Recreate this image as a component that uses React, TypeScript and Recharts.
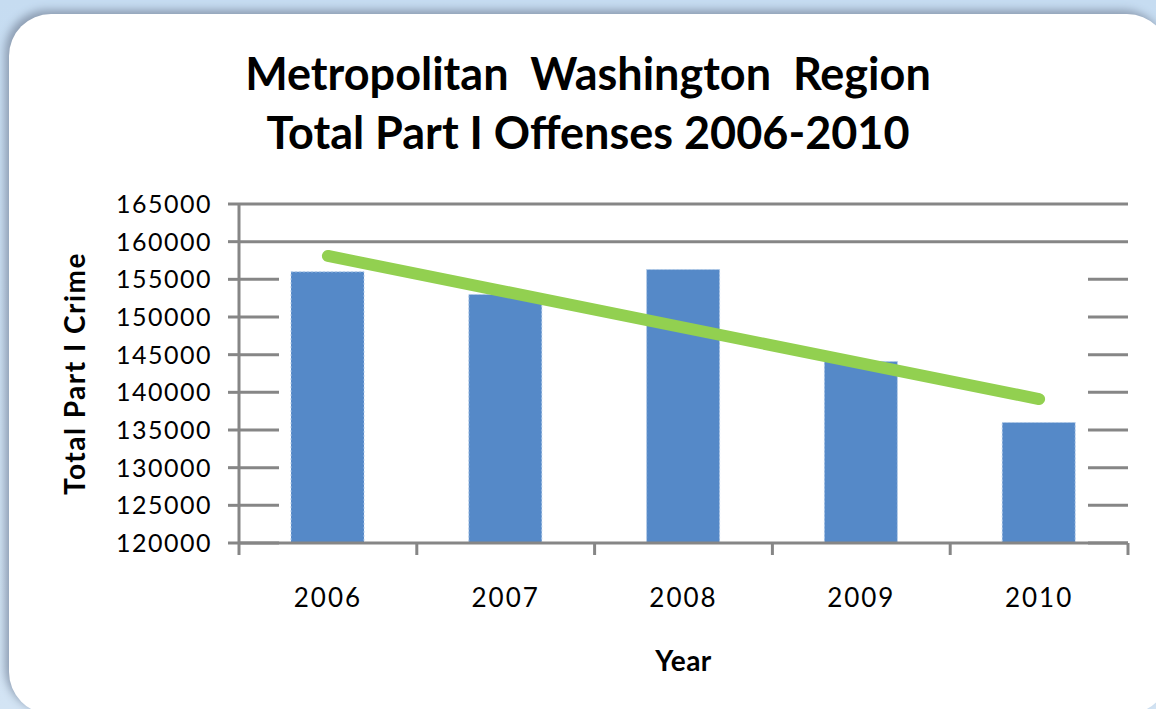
import React from "react";
import { ComposedChart, Bar, Line, XAxis, YAxis, CartesianGrid } from "recharts";

// Chart values
const years = ["2006", "2007", "2008", "2009", "2010"];
const offenses = [156000, 153000, 156300, 144100, 136000];
// Trend line end points (Excel linear trendline), middle left empty
const trend = [158100, null, null, null, 139100];
const yTicks = [120000, 125000, 130000, 135000, 140000, 145000, 150000, 155000, 160000, 165000];

const data = years.map((year, i) => ({ year, offenses: offenses[i], trend: trend[i] }));

const GRAY = "#868686";
const FONT = "Lato, 'Open Sans', sans-serif";

// Gridlines: full width near the top, short stubs at both sides below
const GridLine = (props: any) => {
  const { x1, x2, y1, y2, y, height } = props;
  const full = y1 < y + (height * 7.5) / 45;
  if (full) {
    return <line x1={x1} x2={x2} y1={y1} y2={y2} stroke={GRAY} strokeWidth={3} />;
  }
  return (
    <g>
      <line x1={x1} x2={x1 + 40} y1={y1} y2={y2} stroke={GRAY} strokeWidth={3} />
      <line x1={x2 - 40} x2={x2} y1={y1} y2={y2} stroke={GRAY} strokeWidth={3} />
    </g>
  );
};

// Year label plus tick marks between categories (Excel style)
const YearTick = (props: any) => {
  const { x, y, payload, index, visibleTicksCount } = props;
  const half = payload && payload.offset ? payload.offset : 889 / 5 / 2;
  const isLast = index === visibleTicksCount - 1;
  return (
    <g>
      <line x1={x - half} x2={x - half} y1={y - 12} y2={y} stroke={GRAY} strokeWidth={3} />
      {isLast && <line x1={x + half} x2={x + half} y1={y - 12} y2={y} stroke={GRAY} strokeWidth={3} />}
      <text x={x} y={y + 42} textAnchor="middle" dominantBaseline="central" fontFamily={FONT} fontSize={26} letterSpacing={2} fill="#000">
        {payload.value}
      </text>
    </g>
  );
};

const App: React.FC = () => {
  return (
    <div style={{ position: "absolute", left: 0, top: 0, width: 1156, height: 709, overflow: "hidden", background: "linear-gradient(180deg, #c6dcf1 0%, #d3e4f4 100%)" }}>
      <div style={{ position: "absolute", left: 9, top: 14, width: 1160, height: 700, background: "#fff", borderRadius: 42, boxShadow: "-4px -4px 8px #8d9db2" }} />
      <div style={{ position: "absolute", left: 0, top: 44, width: 1176, textAlign: "center", fontFamily: FONT, fontWeight: 700, fontSize: 45, lineHeight: "59px", color: "#000" }}>
        Metropolitan&nbsp; Washington&nbsp; Region
        <br />
        Total Part I Offenses 2006-2010
      </div>
      <div style={{ position: "absolute", left: 0, top: 0 }}>
        <ComposedChart width={1156} height={709} data={data} margin={{ top: 204, right: 28, bottom: 0, left: 0 }}>
          <CartesianGrid vertical={false} horizontal={GridLine} />
          <XAxis
            dataKey="year"
            height={166}
            axisLine={{ stroke: GRAY, strokeWidth: 3 }}
            tickLine={false}
            tickSize={12}
            tickMargin={0}
            tick={YearTick}
            interval={0}
            label={({ viewBox }: any) => (
              <text x={viewBox.x + viewBox.width / 2} y={viewBox.y + 117} textAnchor="middle" dominantBaseline="central" fontFamily={FONT} fontWeight={700} fontSize={28} letterSpacing={0.5} fill="#000">
                Year
              </text>
            )}
          />
          <YAxis
            width={239}
            domain={[120000, 165000]}
            ticks={yTicks}
            interval={0}
            allowDataOverflow
            axisLine={{ stroke: GRAY, strokeWidth: 3 }}
            tickLine={{ stroke: GRAY, strokeWidth: 3 }}
            tickSize={11}
            tickMargin={16}
            tick={{ fontFamily: FONT, fontSize: 25, letterSpacing: 1.5, fill: "#000" }}
            label={({ viewBox }: any) => (
              <text x={viewBox.x + 74} y={viewBox.y + viewBox.height / 2} textAnchor="middle" dominantBaseline="central" transform={`rotate(-90 ${viewBox.x + 74} ${viewBox.y + viewBox.height / 2})`} fontFamily={FONT} fontWeight={700} fontSize={28} letterSpacing={1.5} fill="#000">
                Total Part I Crime
              </text>
            )}
          />
          <Bar dataKey="offenses" fill="#5589c8" barSize={73} stroke="#b3cbe8" strokeWidth={1} strokeDasharray="2 2" isAnimationActive={false} />
          <Line dataKey="trend" type="linear" stroke="#92d050" strokeWidth={12} strokeLinecap="round" dot={false} activeDot={false} connectNulls isAnimationActive={false} />
        </ComposedChart>
      </div>
    </div>
  );
};

export default App;
